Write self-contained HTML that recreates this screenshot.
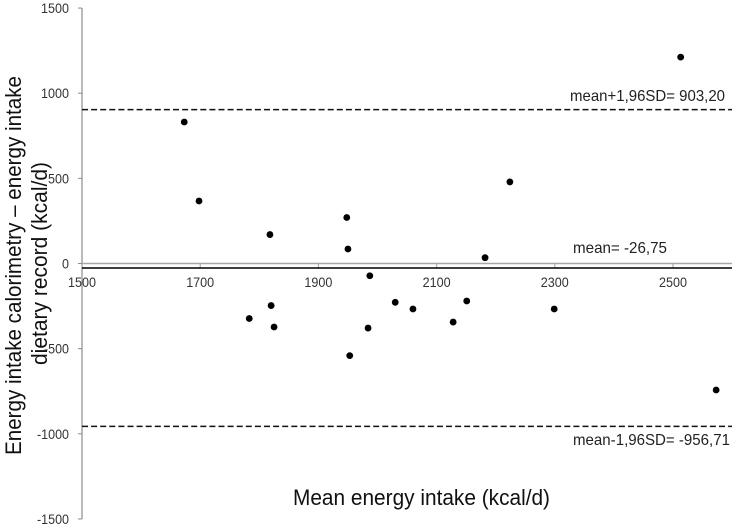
<!DOCTYPE html>
<html lang="en">
<head>
<meta charset="utf-8">
<title>Bland-Altman plot of energy intake</title>
<style>
html,body{margin:0;padding:0;background:#fff;width:736px;height:528px;overflow:hidden}
svg{display:block;font-family:"Liberation Sans",sans-serif}
</style>
</head>
<body>
<svg id="chart" width="736" height="528" viewBox="0 0 736 528" xmlns="http://www.w3.org/2000/svg">
  <text transform="translate(21,455) rotate(-90)" font-size="22" fill="#111" textLength="379" lengthAdjust="spacingAndGlyphs">Energy intake calorimetry – energy intake</text>
  <text transform="translate(47,365) rotate(-90)" font-size="22" fill="#111" textLength="203" lengthAdjust="spacingAndGlyphs">dietary record (kcal/d)</text>
  <text x="293" y="505" font-size="22" fill="#111" textLength="257" lengthAdjust="spacingAndGlyphs">Mean energy intake (kcal/d)</text>
  <text x="570" y="101" font-size="16" fill="#222" textLength="155" lengthAdjust="spacingAndGlyphs">mean+1,96SD= 903,20</text>
  <text x="573" y="253" font-size="16" fill="#222" textLength="94" lengthAdjust="spacingAndGlyphs">mean= -26,75</text>
  <text x="573" y="445" font-size="16" fill="#222" textLength="157" lengthAdjust="spacingAndGlyphs">mean-1,96SD= -956,71</text>
</svg>
<script>
const xTicks = [1500, 1700, 1900, 2100, 2300, 2500];
const yTicks = [1500, 1000, 500, 0, -500, -1000, -1500];
const meanValues = [1673, 1698, 1818, 1948, 1950, 1987, 2182, 2224, 1783, 1820, 1825, 1953, 1984, 2030, 2060, 2128, 2151, 2299, 2513, 2573];
const differenceValues = [831, 367, 170, 270, 85, -72, 34, 479, -323, -247, -373, -541, -379, -228, -267, -344, -220, -267, 1212, -743];
const meanDifference = [-26.75];
const limitsOfAgreement = [903.2, -956.71];

const svg = document.getElementById('chart');
const NS = 'http://www.w3.org/2000/svg';
const xDomainStart = 1500;
const xAxisLeft = 82;
const xAxisEnd = 732;
const xScale = v => xAxisLeft + (v - xDomainStart) * 0.591;
const yScale = v => 263.5 - v * 0.1703;

function make(tag, attrs) {
  const el = document.createElementNS(NS, tag);
  for (const k in attrs) el.setAttribute(k, attrs[k]);
  return el;
}

// axis lines
const yAxis = make('line', {x1: xAxisLeft, x2: xAxisLeft, y1: yScale(1500), y2: yScale(-1500), stroke: '#8c8c8c', 'stroke-width': 1.2});


svg.appendChild(yAxis);

const xAxis = make('line', {x1: xAxisLeft, x2: xAxisEnd, y1: yScale(0), y2: yScale(0), stroke: '#a8a8a8', 'stroke-width': 1.5});


svg.appendChild(xAxis);

// y ticks
yTicks.forEach(v => {
  const t = make('line', {x1: xAxisLeft - 4, x2: xAxisLeft, y1: yScale(v), y2: yScale(v), stroke: '#8c8c8c', 'stroke-width': 1});
  
  
  svg.appendChild(t);
  const l = make('text', {x: 69, y: yScale(v) + 5, 'text-anchor': 'end', 'font-size': 14, fill: '#333'});
  
  
  l.setAttribute('textLength', String(v).replace('-', '').length * 7 + (v < 0 ? 4 : 0));
  l.setAttribute('lengthAdjust', 'spacingAndGlyphs');
  l.textContent = v;
  svg.appendChild(l);
});

// x ticks
xTicks.forEach(v => {
  const t = make('line', {x1: xScale(v), x2: xScale(v), y1: yScale(0), y2: yScale(0) + 4, stroke: '#a0a0a0', 'stroke-width': 1});
  
  
  svg.appendChild(t);
  const l = make('text', {x: xScale(v), y: 287, 'text-anchor': 'middle', 'font-size': 14, fill: '#333'});
  
  
  l.setAttribute('textLength', 28);
  l.setAttribute('lengthAdjust', 'spacingAndGlyphs');
  l.textContent = v;
  svg.appendChild(l);
});

// mean line
meanDifference.forEach(v => {
  const m = make('line', {x1: xAxisLeft, x2: xAxisEnd, y1: yScale(v), y2: yScale(v), stroke: '#000', 'stroke-width': 1.5});
  
  
  svg.appendChild(m);
});

// limits of agreement
limitsOfAgreement.forEach(v => {
  const d = make('line', {x1: xAxisLeft, x2: xAxisEnd, y1: yScale(v), y2: yScale(v), stroke: '#111', 'stroke-width': 1.5, 'stroke-dasharray': '6 3.1'});
  
  
  svg.appendChild(d);
});

// points
meanValues.forEach((v, i) => {
  const c = make('circle', {cx: xScale(v), cy: yScale(differenceValues[i]), r: 3.4, fill: '#000'});
  
  
  svg.appendChild(c);
});
</script>
</body>
</html>
